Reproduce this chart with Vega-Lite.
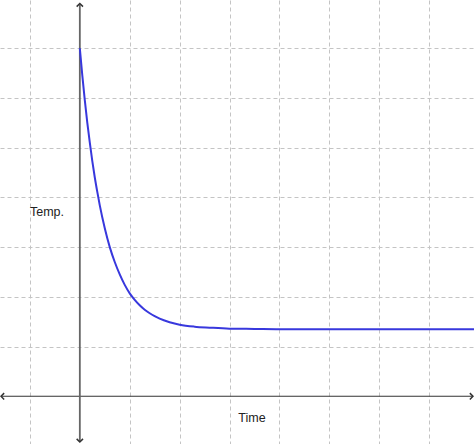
{
  "$schema": "https://vega.github.io/schema/vega-lite/v6.json",
  "width": 474,
  "height": 444,
  "autosize": {"type": "none"},
  "padding": 0,
  "config": {
    "view": {"stroke": null},
    "axis": {
      "grid": true,
      "gridColor": "#c4c4c4",
      "gridDash": [4, 3],
      "gridWidth": 1,
      "ticks": false,
      "labels": false,
      "domain": false,
      "title": null
    }
  },
  "encoding": {
    "x": {
      "field": "x",
      "type": "quantitative",
      "scale": {"domain": [-1.6, 7.9], "nice": false, "zero": false},
      "axis": {"values": [-1, 1, 2, 3, 4, 5, 6, 7]}
    },
    "y": {
      "field": "y",
      "type": "quantitative",
      "scale": {"domain": [-0.96, 7.97], "nice": false, "zero": false},
      "axis": {"values": [1, 2, 3, 4, 5, 6, 7]}
    }
  },
  "layer": [
    {
      "data": {"values": [{"x": -1.57, "x2": 7.87, "y": 0}]},
      "mark": {"type": "rule", "color": "#333333", "strokeWidth": 1.2},
      "encoding": {"x2": {"field": "x2"}}
    },
    {
      "data": {"values": [{"x": 0, "y": -0.9, "y2": 7.88}]},
      "mark": {"type": "rule", "color": "#666666", "strokeWidth": 1.8},
      "encoding": {"y2": {"field": "y2"}}
    },
    {
      "data": {"values": [
        {"x": 0, "y": 7.9, "dir": "up"},
        {"x": 0, "y": -0.92, "dir": "down"},
        {"x": -1.58, "y": 0, "dir": "left"},
        {"x": 7.88, "y": 0, "dir": "right"}
      ]},
      "mark": {"type": "point", "filled": false, "stroke": "#333333", "strokeWidth": 1.5, "size": 40, "opacity": 1},
      "encoding": {
        "shape": {
          "field": "dir",
          "type": "nominal",
          "scale": {
            "domain": ["up", "down", "left", "right"],
            "range": ["M -1 1 L 0 0 L 1 1", "M -1 -1 L 0 0 L 1 -1", "M 1 -1 L 0 0 L 1 1", "M -1 -1 L 0 0 L -1 1"]
          },
          "legend": null
        }
      }
    },
    {
      "data": {"values": [
        {"x": 0, "y": 7.0},
        {"x": 0.05, "y": 6.45},
        {"x": 0.1, "y": 5.95},
        {"x": 0.15, "y": 5.5},
        {"x": 0.2, "y": 5.1},
        {"x": 0.25, "y": 4.73},
        {"x": 0.3, "y": 4.4},
        {"x": 0.35, "y": 4.11},
        {"x": 0.4, "y": 3.84},
        {"x": 0.5, "y": 3.38},
        {"x": 0.6, "y": 3.0},
        {"x": 0.7, "y": 2.7},
        {"x": 0.8, "y": 2.45},
        {"x": 0.9, "y": 2.24},
        {"x": 1.0, "y": 2.07},
        {"x": 1.1, "y": 1.94},
        {"x": 1.2, "y": 1.83},
        {"x": 1.3, "y": 1.74},
        {"x": 1.4, "y": 1.67},
        {"x": 1.5, "y": 1.61},
        {"x": 1.6, "y": 1.56},
        {"x": 1.8, "y": 1.49},
        {"x": 2.0, "y": 1.44},
        {"x": 2.3, "y": 1.4},
        {"x": 2.6, "y": 1.38},
        {"x": 3.0, "y": 1.36},
        {"x": 3.5, "y": 1.355},
        {"x": 4.0, "y": 1.35},
        {"x": 5.0, "y": 1.35},
        {"x": 6.0, "y": 1.35},
        {"x": 7.0, "y": 1.35},
        {"x": 7.9, "y": 1.35}
      ]},
      "mark": {"type": "line", "color": "#3838dd", "strokeWidth": 2, "interpolate": "monotone"}
    },
    {
      "data": {"values": [{"x": -1.0, "y": 3.7, "label": "Temp."}]},
      "mark": {"type": "text", "font": "Liberation Sans", "fontSize": 12.5, "color": "#222222", "baseline": "middle", "align": "left"},
      "encoding": {"text": {"field": "label"}}
    },
    {
      "data": {"values": [{"x": 3.45, "y": -0.44, "label": "Time"}]},
      "mark": {"type": "text", "font": "Liberation Sans", "fontSize": 12.5, "color": "#222222", "baseline": "middle", "align": "center"},
      "encoding": {"text": {"field": "label"}}
    }
  ]
}
